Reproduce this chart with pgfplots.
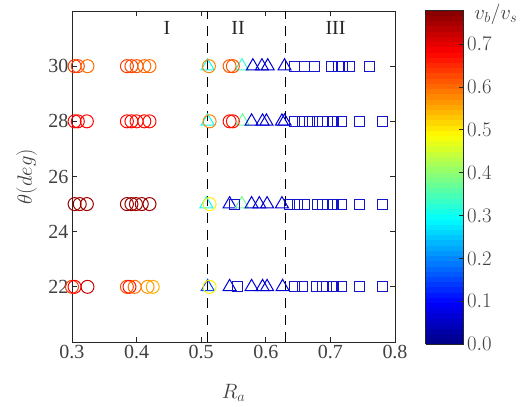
\documentclass[border=0pt]{standalone}
\usepackage{pgfplots}
\usepackage{pgfplotstable}
\pgfplotsset{compat=1.18}
\usepackage{fontspec}
\setmainfont{Liberation Serif}

\definecolor{txtgray}{RGB}{64,64,64}
\definecolor{axgray}{RGB}{38,38,38}
\definecolor{sqblue}{RGB}{20,20,205}

% circles: regime I (and a few in II)
\pgfplotstableread{
x y c
0.304 30 0.64
0.309 30 0.63
0.324 30 0.60
0.385 30 0.64
0.392 30 0.63
0.400 30 0.62
0.412 30 0.60
0.420 30 0.60
0.512 30 0.58
0.544 30 0.61
0.549 30 0.62
0.304 28 0.68
0.309 28 0.68
0.323 28 0.68
0.385 28 0.68
0.392 28 0.68
0.400 28 0.67
0.412 28 0.68
0.420 28 0.67
0.513 28 0.58
0.544 28 0.67
0.549 28 0.67
0.304 25 0.76
0.312 25 0.76
0.323 25 0.76
0.385 25 0.76
0.392 25 0.76
0.399 25 0.76
0.408 25 0.76
0.420 25 0.76
0.513 25 0.50
0.300 22 0.64
0.304 22 0.68
0.324 22 0.72
0.385 22 0.62
0.389 22 0.67
0.397 22 0.60
0.417 22 0.57
0.425 22 0.55
0.513 22 0.50
}\circs

% triangles: regime II
\pgfplotstableread{
x y c
0.510 30 0.30
0.563 30 0.33
0.580 30 0.06
0.594 30 0.07
0.603 30 0.06
0.629 30 0.07
0.510 28 0.30
0.564 28 0.37
0.578 28 0.06
0.595 28 0.07
0.601 28 0.06
0.625 28 0.07
0.629 28 0.06
0.508 25 0.30
0.544 25 0.07
0.563 25 0.38
0.578 25 0.07
0.590 25 0.06
0.602 25 0.06
0.625 25 0.07
0.510 22 0.16
0.544 22 0.07
0.578 22 0.07
0.595 22 0.06
0.602 22 0.07
0.626 22 0.07
}\tris

% squares: regime III (all v_b/v_s close to 0.04)
\pgfplotstableread{
x y
0.645 30
0.660 30
0.676 30
0.702 30
0.713 30
0.719 30
0.730 30
0.761 30
0.645 28
0.657 28
0.668 28
0.680 28
0.688 28
0.695 28
0.704 28
0.717 28
0.745 28
0.781 28
0.552 25
0.637 25
0.649 25
0.660 25
0.680 25
0.688 25
0.695 25
0.704 25
0.717 25
0.745 25
0.781 25
0.556 22
0.645 22
0.657 22
0.679 22
0.688 22
0.694 22
0.704 22
0.717 22
0.745 22
0.781 22
}\sqs

\begin{document}
\begin{tikzpicture}
\useasboundingbox (0,0) rectangle (520pt,407pt);
\begin{axis}[
  at={(72pt,65pt)}, anchor=south west,
  width=323pt, height=331pt, scale only axis,
  xmin=0.3, xmax=0.8, ymin=20, ymax=32,
  xtick={0.3,0.4,...,0.8}, ytick={22,24,...,30},
  tick align=inside, major tick length=5pt,
  axis line style={axgray, line width=0.8pt},
  every tick/.style={axgray, line width=0.8pt},
  xticklabel style={/pgf/number format/.cd, fixed, fixed zerofill, precision=1},
  /pgf/number format/assume math mode=true,
  ticklabel style={font=\fontsize{20}{24}\selectfont, text=txtgray},
  label style={font=\fontsize{20}{24}\selectfont, text=txtgray},
  xlabel={$R_a$},
  ylabel={$\theta(deg)$},
  xlabel style={at={(axis description cs:0.5,-0.155)}, anchor=center},
  ylabel style={at={(axis description cs:-0.14,0.5)}, anchor=center},
  clip=false,
  colormap/jet,
  point meta min=0, point meta max=0.78,
  colorbar sampled,
  colorbar style={
    samples=65,
    at={(parent axis.north east)}, anchor=north west,
    xshift=22pt, yshift=1pt,
    width=38pt, height=334pt, scale only axis,
    ytick={0,0.1,...,0.7},
    yticklabel style={/pgf/number format/.cd, fixed, fixed zerofill, precision=1},
    ytick pos=right, yticklabel pos=right,
    tick align=inside, major tick length=5pt,
    axis line style={axgray, line width=0.8pt},
  },
]
\addplot[scatter, only marks, mark=triangle, mark size=7.5pt,
  mark options={line width=1pt},
  scatter src=explicit, scatter/use mapped color={draw=mapped color}]
  table[x=x, y=y, meta=c] {\tris};
\addplot[scatter, only marks, mark=o, mark size=6.5pt,
  mark options={line width=1pt},
  scatter src=explicit, scatter/use mapped color={draw=mapped color}]
  table[x=x, y=y, meta=c] {\circs};
\addplot[only marks, mark=square, mark size=5pt,
  mark options={line width=1.1pt, draw=sqblue, fill=none}]
  table[x=x, y=y] {\sqs};

\addplot[black, line width=1pt, dash pattern=on 10pt off 7pt] coordinates {(0.51,20) (0.51,32)};
\addplot[black, line width=1pt, dash pattern=on 10pt off 7pt] coordinates {(0.63,20) (0.63,32)};

\node[text=axgray, font=\fontsize{20}{24}\selectfont] at (axis cs:0.447,31.38) {I};
\node[text=axgray, font=\fontsize{20}{24}\selectfont] at (axis cs:0.557,31.38) {II};
\node[text=axgray, font=\fontsize{20}{24}\selectfont] at (axis cs:0.708,31.38) {III};
\node[anchor=west, text=txtgray, font=\fontsize{20}{24}\selectfont] at (rel axis cs:1.235,0.99) {$v_b/v_s$};
\end{axis}
\end{tikzpicture}
\end{document}
